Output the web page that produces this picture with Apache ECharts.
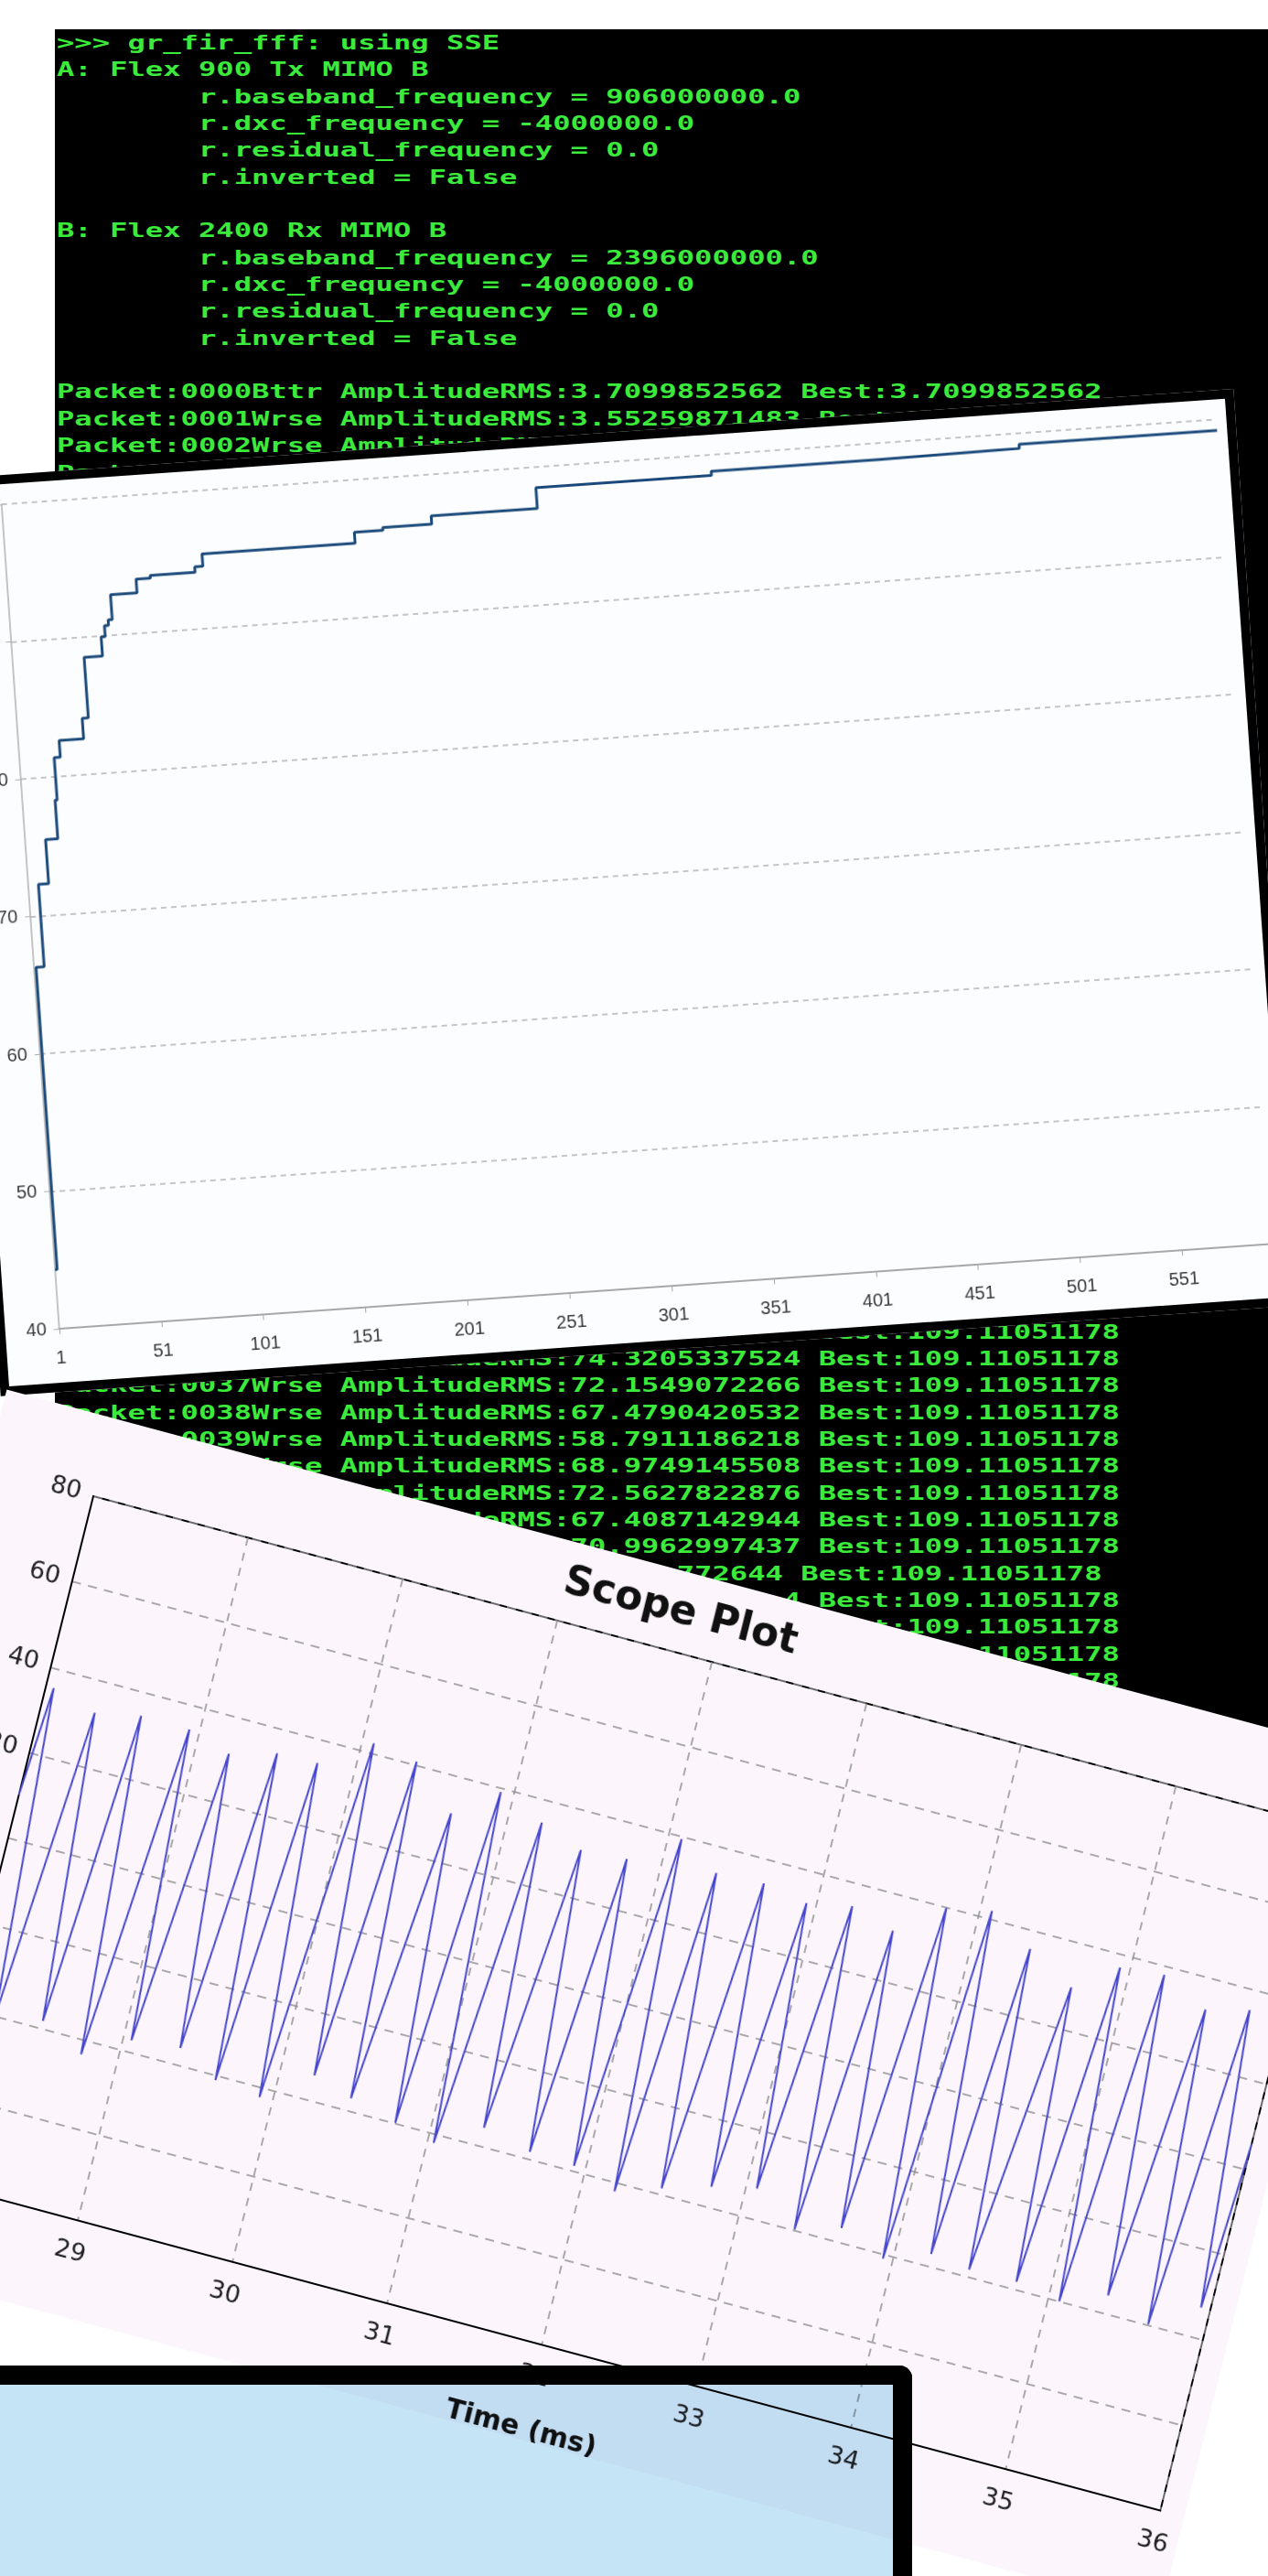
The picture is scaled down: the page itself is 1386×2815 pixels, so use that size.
<!DOCTYPE html>
<html>
<head>
<meta charset="utf-8">
<title>Scope Plot</title>
<script src="https://cdn.jsdelivr.net/npm/echarts@6/dist/echarts.min.js"></script>
<style>
html, body {
  margin: 0;
  padding: 0;
  background: #fff;
}
body {
  width: 1386px;
  height: 2815px;
  position: relative;
  overflow: hidden;
}
#term {
  position: absolute;
  left: 60px;
  top: 32px;
  width: 1400px;
  height: 2200px;
  background: #000;
  overflow: hidden;
  z-index: 1;
}
#termText {
  position: absolute;
  left: 2px;
  top: 0;
  margin: 0;
  font: bold 22px/29.34px "DejaVu Sans Mono", monospace;
  color: #3bea3b;
  white-space: pre;
  transform: scaleX(1.462);
  transform-origin: 0 0;
}
#bestPanel {
  position: absolute;
  left: 0;
  top: 521px;
  width: 1401px;
  height: 984px;
  border: 10px solid #000;
  background: #fcfdff;
  transform-origin: 10px 994px;
  transform: rotate(-4deg);
  z-index: 2;
}
#best {
  width: 1401px;
  height: 984px;
}
#scopePanel {
  position: absolute;
  left: -18px;
  top: 1547px;
  width: 1547px;
  height: 963px;
  background: #fcf6fc;
  transform-origin: 120px 88px;
  transform: matrix(0.9659, 0.2588, -0.2419, 0.9703, 0, 0);
  z-index: 3;
}
#scope {
  width: 1547px;
  height: 963px;
}
/* blue note card laid over the scope, tinting what is under it */
#note {
  position: absolute;
  left: -30px;
  top: 2585px;
  width: 1006px;
  height: 300px;
  border-top: 21px solid #000;
  border-right: 21px solid #000;
  border-top-right-radius: 14px;
  background: rgb(197, 228, 245);
  mix-blend-mode: multiply;
  z-index: 4;
}
</style>
</head>
<body>
<div id="term"><pre id="termText"></pre></div>
<div id="bestPanel"><div id="best"></div></div>
<div id="scopePanel"><div id="scope"></div></div>
<div id="note"></div>

<script>
// terminal log behind the charts (only the parts that show)
var termLines = [
  '>>> gr_fir_fff: using SSE',
  'A: Flex 900 Tx MIMO B',
  '        r.baseband_frequency = 906000000.0',
  '        r.dxc_frequency = -4000000.0',
  '        r.residual_frequency = 0.0',
  '        r.inverted = False',
  '',
  'B: Flex 2400 Rx MIMO B',
  '        r.baseband_frequency = 2396000000.0',
  '        r.dxc_frequency = -4000000.0',
  '        r.residual_frequency = 0.0',
  '        r.inverted = False',
  '',
  'Packet:0000Bttr AmplitudeRMS:3.7099852562 Best:3.7099852562',
  'Packet:0001Wrse AmplitudeRMS:3.55259871483 Best:3.7099852562',
  'Packet:0002Wrse AmplitudeRMS:3.',
  'Packet:0003Wrse'
];
// packets 0004..0034 are hidden under the line chart
for (var k = 4; k <= 34; k++) termLines.push('');
termLines = termLines.concat([
  'Packet:0035Wrse AmplitudeRMS:              Best:109.11051178',
  'Packet:0036Wrse AmplitudeRMS:74.3205337524 Best:109.11051178',
  'Packet:0037Wrse AmplitudeRMS:72.1549072266 Best:109.11051178',
  'Packet:0038Wrse AmplitudeRMS:67.4790420532 Best:109.11051178',
  'Packet:0039Wrse AmplitudeRMS:58.7911186218 Best:109.11051178',
  'Packet:0040Wrse AmplitudeRMS:68.9749145508 Best:109.11051178',
  'Packet:0041Wrse AmplitudeRMS:72.5627822876 Best:109.11051178',
  'Packet:0042Wrse AmplitudeRMS:67.4087142944 Best:109.11051178',
  'Packet:0043Wrse AmplitudeRMS:70.9962997437 Best:109.11051178',
  'Packet:0044Wrse AmplitudeRMS:      772644 Best:109.11051178',
  'Packet:0045Wrse AmplitudeRMS:            4 Best:109.11051178',
  'Packet:0046Wrse AmplitudeRMS:              Best:109.11051178',
  'Packet:0047Wrse AmplitudeRMS:              Best:109.11051178',
  'Packet:0048Wrse AmplitudeRMS:              Best:109.11051178'
]);
document.getElementById('termText').textContent = termLines.join('\n');

// best-so-far curve: packet number where a new level starts, and the level
var bestStart = [1, 2, 6, 11, 17, 18, 21, 33, 36, 45, 47, 49, 51, 64, 71, 93, 97,
  172, 186, 210, 262, 348, 430, 499, 596];
var bestValue = [44.3, 66.3, 72.3, 75.5, 78.3, 81.4, 82.6, 84.1, 88.5, 89.9, 90.7, 91.1, 92.9, 93.9, 94.1, 94.5, 95.4,
  96.2, 96.4, 97.0, 98.5, 98.8, 98.9, 99.2, 99.2];

// scope trace: peaks and troughs (ms, value)
var scopeTime = [28.000, 28.050, 28.190, 28.336, 28.487, 28.622, 28.769, 28.935, 29.053, 29.211,
  29.361, 29.503, 29.622, 29.762, 29.915, 30.074, 30.215, 30.361, 30.471, 30.648,
  30.777, 30.917, 31.040, 31.212, 31.322, 31.490, 31.636, 31.782, 31.925, 32.084,
  32.209, 32.346, 32.490, 32.650, 32.789, 32.938, 33.068, 33.220, 33.358, 33.503,
  33.640, 33.793, 33.938, 34.074, 34.223, 34.363, 34.477, 34.670, 34.782, 34.936,
  35.071, 35.215, 35.358, 35.517, 35.645, 35.786, 35.940, 36.000];
var scopeVolt = [10, 35.5, -40, 32.5, -38.2, 34.6, -43.3, 34.4, -37.3, 31.4,
  -36.1, 34.3, -41.1, 34.6, -42.2, 42.2, -34.2, 40.7, -37.1, 31.4,
  -39.9, 39.0, -42.0, 34.7, -35.7, 31.0, -38.3, 31.7, -38.8, 39.3,
  -42.0, 33.9, -38.6, 34.4, -35.3, 32.6, -33.0, 34.6, -39.8, 31.6,
  -36.7, 39.8, -41.0, 41.8, -37.1, 35.7, -38.3, 29.7, -38.2, 36.9,
  -40.0, 37.9, -35.8, 32.7, -39.8, 35.2, -33.0, 6];

var bestData = bestStart.map(function (p, i) { return [p - 1, bestValue[i]]; });
var scopeData = scopeTime.map(function (t, i) { return [t, scopeVolt[i]]; });

var best = echarts.init(document.getElementById('best'));
best.setOption({
  animation: false,
  grid: { left: 59, right: 11, top: 22, bottom: 59, outerBoundsMode: 'none' },
  xAxis: {
    type: 'value',
    min: 0,
    max: 595,
    interval: 50,
    axisLine: { onZero: false, lineStyle: { color: '#a8a8a8', width: 2 } },
    axisTick: { show: true, length: 6, lineStyle: { color: '#a8a8a8' } },
    axisLabel: {
      margin: 22,
      fontSize: 20,
      color: '#3a3a3a',
      fontFamily: 'Liberation Sans',
      showMaxLabel: false,
      formatter: function (v) { return String(v + 1); }
    },
    splitLine: { show: false }
  },
  yAxis: {
    type: 'value',
    min: 40,
    max: 100,
    interval: 10,
    axisLine: { show: true, onZero: false, lineStyle: { color: '#b0b0b0', width: 1.5 } },
    axisTick: { show: true, length: 6, lineStyle: { color: '#b0b0b0' } },
    axisLabel: { margin: 14, fontSize: 20, color: '#3a3a3a', fontFamily: 'Liberation Sans' },
    splitLine: { lineStyle: { color: '#b3b3b3', type: [6, 5], width: 1.5 } }
  },
  series: [{
    type: 'line',
    step: 'end',
    showSymbol: false,
    data: bestData,
    lineStyle: { color: '#1b4a7a', width: 3 }
  }]
});

var scope = echarts.init(document.getElementById('scope'));
scope.setOption({
  animation: false,
  title: {
    text: 'Scope Plot',
    left: 'center',
    top: 18,
    textStyle: { fontFamily: 'DejaVu Sans', fontSize: 44, fontWeight: 'bold', color: '#111' }
  },
  grid: {
    left: 120, top: 88, width: 1400, height: 769,
    show: true, borderColor: '#000', borderWidth: 2,
    outerBoundsMode: 'none'
  },
  xAxis: {
    type: 'value',
    min: 28,
    max: 36,
    interval: 1,
    name: 'Time (ms)',
    nameLocation: 'middle',
    nameGap: 80,
    nameTextStyle: { fontFamily: 'DejaVu Sans', fontSize: 30, fontWeight: 'bold', color: '#111' },
    axisLine: { onZero: false, lineStyle: { color: '#000', width: 2 } },
    axisTick: { show: false },
    axisLabel: { margin: 22, fontSize: 27, color: '#222', fontFamily: 'DejaVu Sans' },
    splitLine: { show: true, lineStyle: { color: '#8f8f8f', type: [9, 8], width: 1.5 } }
  },
  yAxis: {
    type: 'value',
    min: -80,
    max: 80,
    interval: 20,
    axisLine: { show: true, onZero: false, lineStyle: { color: '#000', width: 2 } },
    axisTick: { show: false },
    axisLabel: { margin: 14, fontSize: 27, color: '#222', fontFamily: 'DejaVu Sans' },
    splitLine: { show: true, lineStyle: { color: '#8f8f8f', type: [10, 8], width: 1.5 } }
  },
  series: [{
    type: 'line',
    showSymbol: false,
    data: scopeData,
    lineStyle: { color: '#4646cc', width: 2 }
  }]
});
</script>
</body>
</html>
